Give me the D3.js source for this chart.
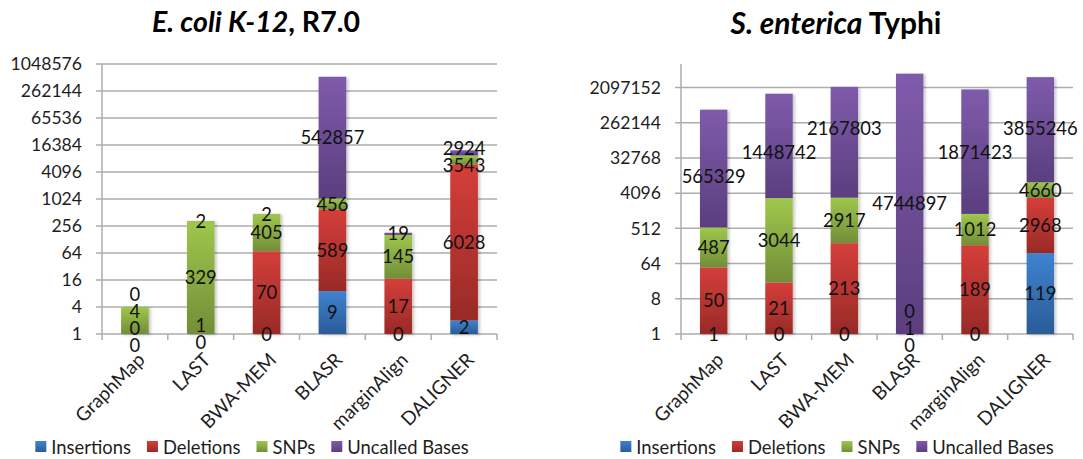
<!DOCTYPE html>
<html>
<head>
<meta charset="utf-8">
<script src="https://cdn.jsdelivr.net/npm/d3@7"></script>
<style>
  body { margin: 0; background: #fff; }
  svg { display: block; }
  text { font-family: Lato, "Open Sans", "DejaVu Sans", sans-serif; }
</style>
</head>
<body>
<svg id="chart" width="1083" height="459"></svg>
<script>
// ---- data -------------------------------------------------------------
const categories = ["GraphMap", "LAST", "BWA-MEM", "BLASR", "marginAlign", "DALIGNER"];
const seriesNames = ["Insertions", "Deletions", "SNPs", "Uncalled Bases"];

// E. coli K-12, R7.0
const ecoliInsertions = [0, 0, 0, 9, 0, 2];
const ecoliDeletions  = [0, 1, 70, 589, 17, 6028];
const ecoliSNPs       = [4, 329, 405, 456, 145, 3543];
const ecoliUncalled   = [0, 2, 2, 542857, 19, 2924];
const ecoliTicks = [1, 4, 16, 64, 256, 1024, 4096, 16384, 65536, 262144, 1048576];
const ecoliMax = 1048576;

// S. enterica Typhi
const typhiInsertions = [1, 0, 0, 0, 0, 119];
const typhiDeletions  = [50, 21, 213, 1, 189, 2968];
const typhiSNPs       = [487, 3044, 2917, 0, 1012, 4660];
const typhiUncalled   = [565329, 1448742, 2167803, 4744897, 1871423, 3855246];
const typhiTicks = [1, 8, 64, 512, 4096, 32768, 262144, 2097152];
const typhiMax = 8388608;

// ---- styling ----------------------------------------------------------
const seriesColors = {
  "Insertions":     ["#3f82d0", "#2a5c98"],
  "Deletions":      ["#d53e3a", "#982a27"],
  "SNPs":           ["#9fc74c", "#728e37"],
  "Uncalled Bases": ["#7f5bab", "#5a3e7e"]
};
const gridColor = "#adadad";
const tickFont = 17.6;
const valueFont = 18.4;
const categoryFont = 19;
const legendFont = 18.4;

const svg = d3.select("#chart");
const defs = svg.append("defs");

seriesNames.forEach((name, i) => {
  const g = defs.append("linearGradient")
    .attr("id", "grad" + i)
    .attr("x1", 0).attr("y1", 0).attr("x2", 0).attr("y2", 1);
  g.append("stop").attr("offset", "0%").attr("stop-color", seriesColors[name][0]);
  g.append("stop").attr("offset", "100%").attr("stop-color", seriesColors[name][1]);
});

const shadow = defs.append("filter").attr("id", "barShadow")
  .attr("x", "-20%").attr("y", "-5%").attr("width", "150%").attr("height", "110%");
shadow.append("feDropShadow").attr("dx", 2).attr("dy", 1)
  .attr("stdDeviation", 1.5).attr("flood-color", "#000").attr("flood-opacity", 0.22);

// ---- panel drawing ----------------------------------------------------
function drawPanel(cfg) {
  const rows = categories.map((c, i) => {
    const r = { category: c };
    seriesNames.forEach((s, k) => { r[s] = cfg.series[k][i]; });
    return r;
  });
  const stacked = d3.stack().keys(seriesNames)(rows);

  const x = d3.scaleBand().domain(categories)
    .range([cfg.left, cfg.right]).paddingInner(0.58).paddingOuter(0.29);
  const band = d3.scaleBand().domain(categories).range([cfg.left, cfg.right]);
  const y = d3.scaleLog().base(cfg.base).domain([1, cfg.max])
    .range([cfg.bottom, cfg.top]);
  const yv = v => y(Math.max(v, 1));

  const g = svg.append("g");

  // gridlines with small outward ticks on the value axis
  g.append("g").selectAll("line").data(cfg.ticks).join("line")
    .attr("x1", cfg.left - 6).attr("x2", cfg.right)
    .attr("y1", d => y(d)).attr("y2", d => y(d))
    .attr("stroke", gridColor).attr("stroke-width", 1.5);

  // value axis line
  g.append("line")
    .attr("x1", cfg.left).attr("x2", cfg.left)
    .attr("y1", cfg.top).attr("y2", cfg.bottom)
    .attr("stroke", gridColor).attr("stroke-width", 1.5);

  // category axis ticks at band edges
  const edges = categories.map(c => band(c)).concat([cfg.right]);
  g.append("g").selectAll("line").data(edges).join("line")
    .attr("x1", d => d).attr("x2", d => d)
    .attr("y1", cfg.bottom).attr("y2", cfg.bottom + 6)
    .attr("stroke", gridColor).attr("stroke-width", 1.5);

  // value tick labels
  g.append("g").selectAll("text").data(cfg.ticks).join("text")
    .attr("x", cfg.left - 20).attr("y", d => y(d)).attr("dy", "0.36em")
    .attr("text-anchor", "end").attr("font-size", tickFont).attr("fill", "#1e1e1e")
    .text(d => d);

  // stacked bars
  const barLayer = g.append("g").attr("filter", "url(#barShadow)");
  stacked.forEach((layer, k) => {
    barLayer.append("g").selectAll("rect").data(layer).join("rect")
      .attr("x", d => x(d.data.category))
      .attr("width", x.bandwidth())
      .attr("y", d => yv(d[1]))
      .attr("height", d => Math.max(0, yv(d[0]) - yv(d[1])))
      .attr("fill", `url(#grad${k})`);
  });

  // rotated category labels
  g.append("g").selectAll("text").data(categories).join("text")
    .attr("text-anchor", "end").attr("font-size", categoryFont).attr("fill", "#1e1e1e")
    .attr("transform", c => `translate(${x(c) + x.bandwidth() / 2 + 11},${cfg.bottom + 27}) rotate(-45)`)
    .text(c => c);

  // segment value labels, centred in each segment
  const labels = [];
  stacked.forEach((layer, k) => {
    layer.forEach((d, i) => {
      labels.push({
        text: String(d.data[seriesNames[k]]),
        x: x(d.data.category) + x.bandwidth() / 2,
        y: (yv(d[0]) + yv(d[1])) / 2,
        bar: i, s: k
      });
    });
  });
  const labelSel = g.append("g").selectAll("text").data(labels).join("text")
    .attr("text-anchor", "middle").attr("font-size", valueFont).attr("fill", "#111")
    .attr("dy", "0.36em")
    .attr("x", d => d.x)
    .text(d => d.text);
  labelSel.each(function (d) { d.w = this.getComputedTextLength(); });
  separateLabels(labels, cfg.bottom + 11);
  labelSel.attr("y", d => d.y);

  // title
  const title = svg.append("text")
    .attr("x", cfg.titleX).attr("y", cfg.titleY)
    .attr("text-anchor", "middle").attr("font-weight", "bold")
    .attr("font-size", 24).attr("fill", "#000");
  title.append("tspan").attr("font-style", "italic").text(cfg.titleItalic);
  title.append("tspan").text(cfg.titleRest);
  const tw = title.node().getComputedTextLength();
  title.attr("font-size", 24 * cfg.titleWidth / tw);

  // legend
  const leg = svg.append("g");
  let cursor = 0;
  seriesNames.forEach((name, k) => {
    const item = leg.append("g").attr("transform", `translate(${cursor},0)`);
    item.append("rect").attr("x", 0).attr("y", -6).attr("width", 11).attr("height", 11)
      .attr("fill", `url(#grad${k})`);
    const t = item.append("text").attr("x", 16).attr("y", 0).attr("dy", "0.36em")
      .attr("font-size", legendFont).attr("fill", "#1e1e1e").text(name);
    cursor += 16 + t.node().getComputedTextLength() + 16;
  });
  cursor -= 16;
  leg.attr("transform", `translate(${cfg.legendX - cursor / 2},${cfg.legendY})`);
}

// push overlapping value labels apart vertically, never below maxY
function separateLabels(labels, maxY) {
  for (let it = 0; it < 400; it++) {
    let moved = false;
    for (let i = 0; i < labels.length; i++) {
      for (let j = i + 1; j < labels.length; j++) {
        const a = labels[i], b = labels[j];
        const same = a.bar === b.bar;
        if (!same && Math.abs(a.x - b.x) >= (a.w + b.w) / 2 + 4) continue;
        const gap = same ? 17 : 24;
        const dir = same ? (a.s < b.s ? 1 : -1) : (a.y >= b.y ? 1 : -1);
        const d = (a.y - b.y) * dir;
        if (d < gap - 0.01) {
          const sh = (gap - d) / 2;
          a.y += sh * dir;
          b.y -= sh * dir;
          moved = true;
        }
      }
    }
    labels.forEach(l => { if (l.y > maxY) l.y = maxY; });
    if (!moved) break;
  }
}

drawPanel({
  series: [ecoliInsertions, ecoliDeletions, ecoliSNPs, ecoliUncalled],
  ticks: ecoliTicks, base: 4, max: ecoliMax,
  left: 102, right: 497, top: 64, bottom: 334,
  titleItalic: "E. coli K-12", titleRest: ", R7.0",
  titleX: 256, titleY: 32, titleWidth: 208,
  legendX: 252, legendY: 447
});

drawPanel({
  series: [typhiInsertions, typhiDeletions, typhiSNPs, typhiUncalled],
  ticks: typhiTicks, base: 8, max: typhiMax,
  left: 681, right: 1073, top: 64, bottom: 334,
  titleItalic: "S. enterica", titleRest: " Typhi",
  titleX: 836, titleY: 34, titleWidth: 211,
  legendX: 837, legendY: 447
});
</script>
</body>
</html>
